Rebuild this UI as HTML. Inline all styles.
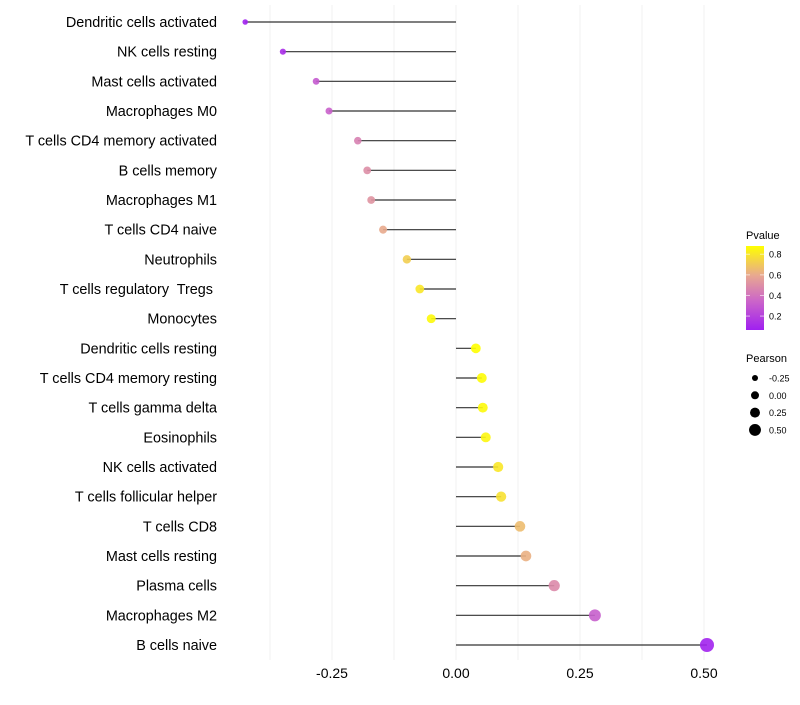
<!DOCTYPE html>
<html><head><meta charset="utf-8"><style>
body{margin:0;background:#fff;font-family:"Liberation Sans",sans-serif}
text{white-space:pre}
</style></head><body>
<svg id="chart" width="800" height="700" xmlns="http://www.w3.org/2000/svg">
<g id="grid"></g>
<g id="marks"></g>
<g id="ylabels"></g>
<g id="xlabels"></g>
<g id="legend">
<defs><linearGradient id="pg" x1="0" y1="1" x2="0" y2="0">
<stop offset="0" stop-color="#a020f0"/><stop offset="0.35" stop-color="#cc66c8"/><stop offset="0.65" stop-color="#e8a890"/><stop offset="1" stop-color="#ffff00"/></linearGradient></defs>
<text x="746" y="239" font-size="11" fill="#000">Pvalue</text>
<rect x="746" y="246" width="18" height="84" fill="url(#pg)"/>
<text x="746" y="362" font-size="11" fill="#000">Pearson</text>
</g>
</svg>
<script>
const categories=["Dendritic cells activated","NK cells resting","Mast cells activated","Macrophages M0","T cells CD4 memory activated","B cells memory","Macrophages M1","T cells CD4 naive","Neutrophils","T cells regulatory  Tregs ","Monocytes","Dendritic cells resting","T cells CD4 memory resting","T cells gamma delta","Eosinophils","NK cells activated","T cells follicular helper","T cells CD8","Mast cells resting","Plasma cells","Macrophages M2","B cells naive"];
const pearson=[-0.425,-0.349,-0.282,-0.256,-0.198,-0.179,-0.171,-0.147,-0.099,-0.073,-0.050,0.040,0.052,0.054,0.060,0.085,0.091,0.129,0.141,0.198,0.280,0.506];
const pvalue=[0.07,0.12,0.3,0.33,0.45,0.5,0.52,0.6,0.72,0.8,0.86,0.88,0.87,0.86,0.85,0.8,0.78,0.66,0.62,0.48,0.32,0.08];
const xTicks=[-0.25,0,0.25,0.5];
const xTickLabels=["-0.25","0.00","0.25","0.50"];
const pTicks=[0.2,0.4,0.6,0.8];
const sizeTicks=[-0.25,0,0.25,0.5];
const sizeTickLabels=["-0.25","0.00","0.25","0.50"];
const NS="http://www.w3.org/2000/svg";
const x=v=>456+v*496;
const y=i=>22+i*(623/21);
const r=v=>Math.max(1.5,4.7+4.6*v);
const pmin=0.065,pmax=0.88;
const py=p=>330-(p-pmin)/(pmax-pmin)*84;
const stops=[[0,[160,32,240]],[0.35,[204,102,200]],[0.65,[232,168,144]],[1,[255,255,0]]];
function col(p){const t=Math.max(0,Math.min(1,(p-pmin)/(pmax-pmin)));
let k=0;while(k<stops.length-2&&t>stops[k+1][0])k++;
const [t0,a]=stops[k],[t1,b]=stops[k+1];const u=(t-t0)/(t1-t0);
return `rgb(${a.map((c,j)=>Math.round(c+(b[j]-c)*u)).join(',')})`;}
function mk(tag,at,parent){const e=document.createElementNS(NS,tag);for(const k in at)e.setAttribute(k,at[k]);parent.appendChild(e);return e;}
const grid=document.getElementById('grid'),marks=document.getElementById('marks'),yl=document.getElementById('ylabels'),xl=document.getElementById('xlabels'),lg=document.getElementById('legend');
for(let g=-0.375;g<=0.5001;g+=0.125){const l=mk('line',{x1:x(g),x2:x(g),y1:5,y2:660,stroke:'#f0f0f0','stroke-width':1},grid);

}
categories.forEach((c,i)=>{
const ln=mk('line',{x1:x(0),x2:x(pearson[i]),y1:y(i),y2:y(i),stroke:'#333','stroke-width':1.2},marks);


const pt=mk('circle',{cx:x(pearson[i]),cy:y(i),r:r(pearson[i]),fill:col(pvalue[i]),'fill-opacity':0.9},marks);


const t=mk('text',{x:217,y:y(i)+5,'text-anchor':'end','font-size':14.4,fill:'#000'},yl);t.textContent=c;


});
xTicks.forEach((v,i)=>{const t=mk('text',{x:x(v),y:678,'text-anchor':'middle','font-size':14,fill:'#000'},xl);t.textContent=xTickLabels[i];

});
pTicks.forEach(p=>{mk('line',{x1:746,x2:750,y1:py(p),y2:py(p),stroke:'#fff','stroke-opacity':0.6},lg);mk('line',{x1:760,x2:764,y1:py(p),y2:py(p),stroke:'#fff','stroke-opacity':0.6},lg);
const t=mk('text',{x:769,y:py(p)+3.5,'font-size':9,fill:'#000'},lg);t.textContent=p.toFixed(1);

});
sizeTicks.forEach((v,i)=>{const cy=378+i*17.3;
const c=mk('circle',{cx:755,cy:cy,r:r(v)*0.85,fill:'#000'},lg);


const t=mk('text',{x:769,y:cy+3.5,'font-size':9,fill:'#000'},lg);t.textContent=sizeTickLabels[i];

});
</script>
</body></html>
